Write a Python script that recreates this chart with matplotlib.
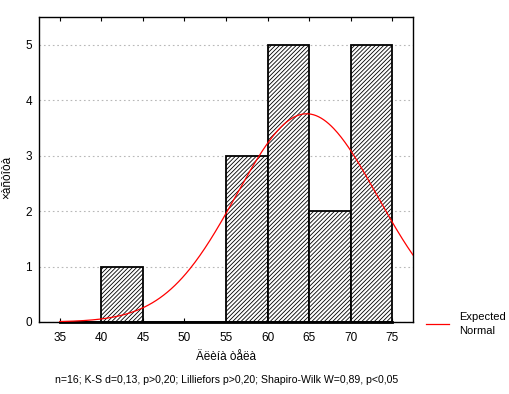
import numpy as np
import matplotlib
matplotlib.use('Agg')
import matplotlib.pyplot as plt

plt.rcParams['font.family'] = ['Liberation Sans', 'DejaVu Sans']
plt.rcParams['hatch.linewidth'] = 0.6

# histogram data (bin left edges, counts)
bin_edges = [35, 40, 45, 50, 55, 60, 65, 70]
counts = [0, 1, 0, 0, 3, 5, 2, 5]
bin_width = 5
n_obs = 16
# fitted normal parameters
mean_val = 64.7
sd_val = 8.5

x_ticks = [35, 40, 45, 50, 55, 60, 65, 70, 75]
y_ticks = [0, 1, 2, 3, 4, 5]

fig = plt.figure(figsize=(5.09, 3.94), dpi=100)
ax = fig.add_axes([39/509, 72/394, 374/509, 305/394])

ax.bar(bin_edges, counts, width=bin_width, align='edge', color='white',
       edgecolor='black', hatch='////////', linewidth=1.3, zorder=3)
# zero-height bins show as a thick line on the baseline
ax.plot([35, 75], [0, 0], color='black', lw=2.0, zorder=4, clip_on=False)

# expected normal
xs = np.linspace(35, 80, 300)
ys = n_obs * bin_width / (sd_val * np.sqrt(2 * np.pi)) * np.exp(-0.5 * ((xs - mean_val) / sd_val) ** 2)
line, = ax.plot(xs, ys, color='red', lw=0.9, zorder=5)

ax.set_xlim(32.5, 77.5)
ax.set_ylim(0, 5.5)
ax.set_xticks(x_ticks)
ax.set_yticks(y_ticks)
ax.tick_params(axis='both', labelsize=8.5, length=0)
ax.tick_params(axis='x', top=True, direction='in', length=3, pad=7)
ax.tick_params(axis='y', pad=5)
ax.yaxis.grid(True, color='#b8b8b8', linestyle=(0, (1.5, 2.5)), lw=0.8)
ax.set_axisbelow(True)
for s in ax.spines.values():
    s.set_linewidth(1.0)

ax.set_xlabel('Äëèíà òåëà', fontsize=8.5)
ax.xaxis.set_label_coords(0.5, -0.095)
ax.set_ylabel('×àñòîòà', fontsize=8.5)
ax.yaxis.set_label_coords(-0.07, 0.473)

fig.text(227/509, 1 - 380/394,
         'n=16; K-S d=0,13, p>0,20; Lilliefors p>0,20; Shapiro-Wilk W=0,89, p<0,05',
         ha='center', va='center', fontsize=7.6)

# legend
fig.legend([line], ['Expected\nNormal'], loc='upper left',
           bbox_to_anchor=(422/509, 1 - 308/394), frameon=False, fontsize=8,
           handlelength=2.0, handletextpad=0.9, borderaxespad=0)
for t in fig.legends[0].get_texts():
    t.set_linespacing(1.45)

fig.savefig('out.png', dpi=100)
